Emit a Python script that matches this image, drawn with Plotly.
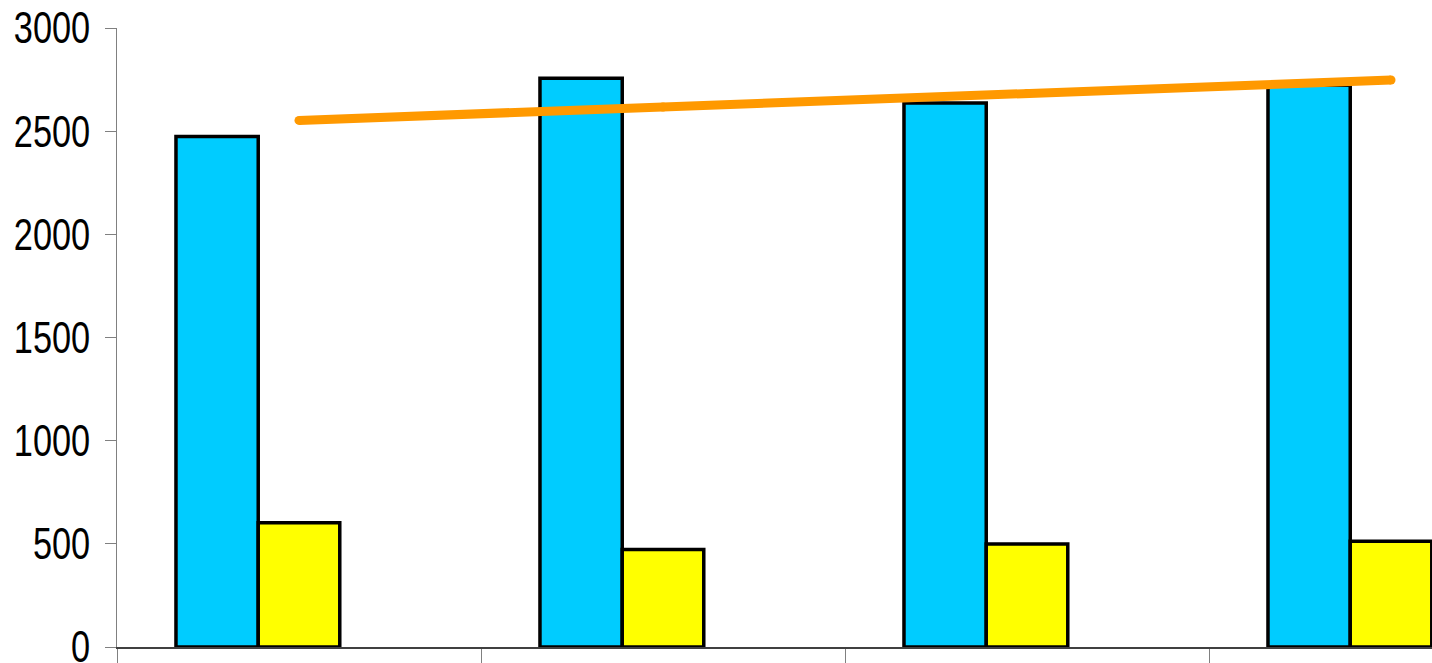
import plotly.graph_objects as go

categories = ["1", "2", "3", "4"]
blue_values = [2474, 2756, 2636, 2722]
yellow_values = [602, 472, 499, 512]
line_values = [2552, 2617, 2683, 2748]
y_ticks = [0, 500, 1000, 1500, 2000, 2500, 3000]

fig = go.Figure()
fig.add_trace(go.Bar(
    x=categories, y=blue_values, width=0.226, offset=-0.338,
    marker=dict(color="#00CCFF", line=dict(color="#000000", width=3.5)),
    showlegend=False,
))
fig.add_trace(go.Bar(
    x=categories, y=yellow_values, width=0.224, offset=-0.112,
    marker=dict(color="#FFFF00", line=dict(color="#000000", width=3.5)),
    showlegend=False,
))
fig.add_trace(go.Scatter(
    x=categories, y=line_values, mode="lines+markers",
    line=dict(color="#FF9900", width=9),
    marker=dict(color="#FF9900", size=9),
    showlegend=False, cliponaxis=False,
))

tick_font = dict(family="Liberation Sans Narrow, Arial Narrow, Liberation Sans, Arial",
                 size=44, color="#000000")

fig.update_layout(
    width=1432, height=663,
    margin=dict(l=117, r=0, t=28, b=16, autoexpand=False),
    paper_bgcolor="white", plot_bgcolor="white",
    barmode="overlay",
    font=tick_font,
    xaxis=dict(
        type="category", range=[-0.5, 3.1126], automargin=False,
        showgrid=False, zeroline=False,
        showline=True, linecolor="#404040", linewidth=2,
        ticks="outside", tickson="boundaries", ticklen=17, tickcolor="#808080", tickwidth=1,
        showticklabels=False,
    ),
    yaxis=dict(
        range=[0, 3000], tickvals=y_ticks, automargin=False,
        showgrid=False, zeroline=False,
        showline=True, linecolor="#808080", linewidth=1,
        ticks="outside", ticklen=11, tickcolor="#808080", tickwidth=1,
        ticklabelstandoff=6, ticklabeloverflow="allow",
        tickfont=tick_font,
    ),
)

post_js = """
document.body.style.margin = '0';
document.body.style.overflow = 'hidden';
var gd = document.getElementById('{plot_id}');
gd.querySelectorAll('.ytick text').forEach(function(t) {
    var w = t.getComputedTextLength();
    t.setAttribute('textLength', (w * 0.78).toFixed(1));
    t.setAttribute('lengthAdjust', 'spacingAndGlyphs');
});
"""

fig.write_html("out.html", post_script=post_js, config={"displayModeBar": False})
